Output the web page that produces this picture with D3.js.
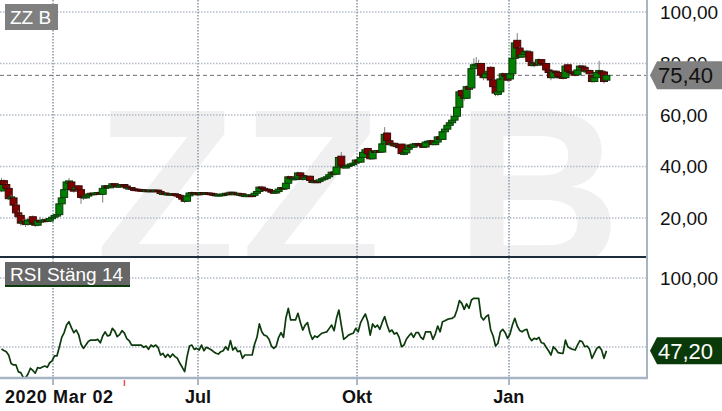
<!DOCTYPE html>
<html>
<head>
<meta charset="utf-8">
<script src="https://cdn.jsdelivr.net/npm/d3@7"></script>
<style>
  html, body { margin: 0; padding: 0; background: #fff; }
  svg { display: block; font-family: "Liberation Sans", Arial, sans-serif; }
</style>
</head>
<body>
<div id="chart"></div>
<script>
// ZZ B daily candles, 2020-03-02 .. 2021-03, one value per trading day
var opens = [30.5,34.5,33,31.5,27.5,27.8,25,22,21,18,
  18.7,17.5,19,20.5,18,17.2,19,18.5,18.7,19.3,
  18.8,19.8,20.3,21,21.3,25.5,28,31,33.5,34,
  31,31,32.5,31,28.5,27.8,28.5,29.3,29.6,29.5,
  29.7,29.9,29.2,31.5,32.5,31.8,32.3,33.3,32.8,32,
  32.6,33,32.4,31.6,31.8,31.3,31.2,31.1,31,30.9,
  30.6,30.8,30.4,30.8,30.6,30.8,30.3,29.5,29.7,29.1,
  29.5,29,29.4,29.1,28.8,28,27.3,26.5,28.6,29.7,
  29.9,29.5,29.6,29.4,29.9,29.4,29.7,29.6,29.4,29.2,
  28.9,29.1,29.2,29.3,29.6,29.3,30,29.4,29.6,29.3,
  29.4,28.6,28.9,28.9,28.9,28.8,29.6,30.3,32,31.5,
  31.2,31.1,30.6,30.2,30,30.3,31.2,31.8,31.4,33.5,
  36,35.3,35.4,35.5,37.5,36.5,35,35.8,36.2,34.6,
  33.8,34.3,34.2,34.8,35.3,35.6,36,36.8,37.8,37,
  39.8,44,40.3,39.5,40,40.6,41,41.3,42.5,41.7,
  43.5,45.5,47,45,43,46,45.5,46.2,45.6,48.8,
  53,50,48.5,49,48,48.3,48.7,45,45.3,46.7,
  48.3,47.5,48.7,48.9,48.7,48,47.6,49.5,49.8,50,
  48.5,49.5,51.5,50.5,53.5,54.5,56,57,58,59.5,
  63,69.5,67.5,66.5,71,70.5,78,79.5,79.7,80,
  75.5,74.5,76,78.5,73.6,71,68,69,74,76,
  75.5,74,76,82,89,86,82.5,83.5,84.5,84.5,
  80.5,79.2,80,79.5,81.5,80,80,77.5,76.5,74.5,
  77,76.5,75,74.8,74.5,79.5,77,76.5,76,75.6,
  77.5,79,78.5,77,77.3,75.5,73,74.5,76.5,77,
  76.7,73.5];

var closes = [34.5,33,31.5,27.5,28.2,25,22,20.5,18,18.7,
  17.5,19,19.5,18,17.2,19,18.5,19.2,19.3,18.8,
  19.8,20.3,21,21.3,25.5,27.8,31,34,34.4,31,
  30.5,32,31,28,27.8,28.5,29.3,29.6,29.5,29.7,
  29.9,29.2,31.5,32.5,31.8,32.3,33.3,32.8,32,32.6,
  33,32.4,31.6,31.8,31.3,31.2,31.1,31,30.9,30.6,
  30.8,30.4,30.8,30.6,30.8,30.3,29.5,29.7,29.1,29.5,
  29,29.4,29.1,28.8,28,27.3,26.5,28.6,29.7,29.9,
  29.5,29.6,29.4,29.9,29.4,29.7,29.6,29.4,29.2,28.9,
  29.1,29.2,29.3,29.6,29.3,30,29.4,29.6,29.3,29.4,
  28.6,28.9,28.9,28.9,28.8,29.6,30.3,32,31.5,31.2,
  31.1,30.6,30.2,30,30.3,31.2,31.8,31.4,33.5,36,
  35.3,35.4,35.5,37.5,36.5,35,35.8,36.2,34.6,33.8,
  34.3,34.2,34.8,35.3,35.6,36,36.8,37.8,37.1,39.8,
  43.5,40.3,39.5,40,40.6,41,41.3,42.5,41.7,43.5,
  45.5,46.5,45,43,46,45.5,46.2,45.6,48.8,52.5,
  50,48.5,49,48,48.3,47.3,45,45.3,46.7,48.3,
  47.5,48.7,48.9,48.7,48,47.6,49.5,49.8,50,48.5,
  49.5,51.5,50.5,53.5,54.5,56,57,58,59.5,63,
  69,67.5,66.5,71,70,78,79.5,79.7,80,75.5,
  74.5,76,77,73.6,71,68.5,69,74,76,75,
  73.5,76,82,88,86,82.5,83.5,84.5,84.8,80.8,
  79.2,80,79.5,81.5,80,79.5,77.5,76.5,74.5,77,
  76.5,75,74.8,74.7,79,77,76.5,76,75.6,77.5,
  79,78.8,77,77.3,76,73,74.5,76.5,77.3,76,
  73,75.4];

var highs = [35.5,35,33.5,31.8,29,28,25.5,23,21.5,19.5,
  19.8,19.5,20,21,18.5,19.5,20.5,19.8,19.8,19.6,
  20.2,20.8,21.5,22,25.8,28.5,31.5,34.6,35.5,34.3,
  31.5,32.5,32.8,31.2,28.8,29,29.6,30,29.9,30,
  30.3,30,31.8,32.8,32.7,32.6,33.5,33.5,33,32.8,
  33.2,33.1,32.5,32,31.9,31.5,31.4,31.3,31.2,31,
  31,30.9,31,30.9,31,30.9,30.4,29.9,29.8,29.7,
  29.6,29.6,29.5,29.2,28.9,28.1,27.5,29,30,30.3,
  30,29.9,29.8,30.1,30,29.9,29.9,29.7,29.5,29.3,
  29.3,29.4,29.5,29.8,29.7,30.2,30.1,29.8,29.7,29.6,
  29.5,29.1,29.1,29.2,29,29.8,30.5,32.4,32.5,31.7,
  31.4,31.2,30.7,30.3,30.5,31.4,32,32,33.8,36.5,
  36.2,35.8,36,38,37.7,36.6,36,36.5,36.3,34.8,
  34.5,34.5,35,35.5,35.8,36.3,37,38.2,38,40.2,
  44,45.6,40.5,40.3,40.9,41.3,41.6,42.8,42.7,43.8,
  46,47,47.3,45.2,46.3,46.4,46.5,46.4,49,55.3,
  53.3,50.2,49.3,49.2,48.6,48.7,48.8,45.6,47,48.6,
  48.5,49,49.2,49.3,48.8,48.2,49.8,50.1,50.4,50.1,
  49.8,51.8,51.7,53.9,54.8,56.4,57.4,58.4,59.9,63.5,
  69.5,70,68,71.5,72,78.8,82,82.5,81.5,80.3,
  76,76.5,77.8,79,74,71.3,69.5,74.5,76.5,76.3,
  75.8,76.5,82.5,88.5,91.8,86.5,84,85,85.3,84.8,
  80.8,80.5,80.6,82,81.7,80.3,80.2,77.8,76.8,77.5,
  77.3,76.8,75.3,75.2,79.5,80,77.3,76.8,76.3,78,
  79.5,79.3,78.8,77.8,77.5,75.8,74.8,77,81,77.3,
  77,75.8];

var lows = [30,32.5,30.5,27,26.5,24,21.5,19.5,17,17.2,
  16.5,17,18,17.5,16.5,16.8,18,18.2,18.5,18.3,
  18.5,19.5,20,20.6,21,25,27.5,30.5,33,30.5,
  29.8,30.5,30.5,25.5,27,27.5,28.2,29,29.1,29.2,
  29.4,28.9,26,31.2,31.5,31.6,32.1,32.5,31.8,31.8,
  32.4,32.2,31.4,31.4,31.1,31,30.9,30.8,30.7,30.3,
  30.5,30.2,30.3,30.4,30.5,30.1,29.2,29.3,28.9,29,
  28.8,28.9,28.9,28.5,27.7,27,25.8,26.3,28.4,29.5,
  29.3,29.3,29.2,29.3,29.2,29.3,29.4,29.2,29,28.7,
  28.8,29,29,29.2,29.1,29.2,29.2,29.3,29.1,29.1,
  28.3,28.4,28.7,28.6,28.6,28.7,29.4,30.1,31.2,31,
  30.9,30.4,30,29.8,29.9,30.2,31,31.2,31.3,33.3,
  35,35,35.1,35.3,36.2,34.5,34.8,35.5,34.3,33.5,
  33.6,34,34,34.6,35.1,35.4,35.8,36.6,36.8,36.7,
  39.5,40,39.2,39.3,39.8,40.4,40.8,41.1,41,41.5,
  43.2,45.2,44.5,42.6,42.8,45,45.2,45.3,45.4,48.5,
  49.6,48.2,48.2,47.8,47.8,47,44.5,44.3,45,46.5,
  47.2,47.3,48.4,48.4,47.7,47.3,47.4,49.2,49.5,48.2,
  48.3,49.3,50.2,50.3,53.2,54.3,55.7,56.8,57.7,59.3,
  62.8,67,65.5,66.2,69.5,70.2,77.5,79,79.2,74.8,
  73.5,74,75.5,73,70.5,67.3,67.3,68.8,73.5,74.5,
  73,73.8,75.8,81.5,85.5,82,82.2,83.2,84,80.3,
  78.8,78.5,79,79.2,79.5,79,77,76,73.5,74.2,
  76,74.5,74.2,73.8,74.2,76.5,76,75.5,75,75.3,
  77.2,78.3,76.5,76.7,75.5,72.5,72.6,74.2,76.2,75.5,
  72.2,73.3];

// RSI (close, 14)
var rsi = [48.6,47.5,46.6,44,38,37,37,32,31.4,28,
  27.5,30.4,34.6,33,31,35,34.6,35.5,36.2,35.3,
  38.6,40,43.5,43.5,50,57,60.5,66,68.3,64,
  60.4,62.3,59,52,49,51.4,54,55,55,55,
  55.5,53,58,61,58,58.6,63.5,61.5,57.5,59,
  61.8,60,56,54.5,51.4,51.4,51.4,51.4,51.4,49.8,
  50.7,48.3,51.4,50.2,51.4,49.5,44.2,45.4,42.5,44.7,
  42.5,44.9,43,41.8,38.2,35.3,32.1,43,50.7,51.4,
  48.3,49,47.8,51.4,47.3,49.8,49,48,46.6,45.5,
  44.9,46.6,47.3,50.2,47.8,54.6,47.8,49.8,46.6,47.3,
  41.8,44.2,44.2,44.2,44.2,52,57,66.7,61,58.6,
  58,55.6,50.7,49,50.7,57,60.4,57,70.8,78,
  69.6,69.6,69.6,74.4,68,62.3,65.9,67.6,60,55.6,
  58,57,58.6,60,60.5,61,63.5,65.9,61.8,70.8,
  76.8,65.9,55.6,57,58.6,59.4,60,63.5,61,67.6,
  71,73.9,68.3,58.6,66.7,64.3,65.9,62.8,68,72,
  65.9,61,62.3,59.4,60.4,57,50.2,51.4,55.6,58,
  60,57,60.4,60.4,57,55.6,61,61,61,55.6,
  59.4,65.2,61,68.3,69,70,70.5,70.8,72,76.8,
  83.6,81.6,77.3,81.2,78,84.1,85.3,85.3,85.3,72,
  69.6,72,73.2,62.3,58,50.7,52.7,61,62.8,60.4,
  56.3,59.4,65.9,70.8,65.2,62,61,62.3,62.8,57,
  54.6,56.3,55.6,57,53.1,52.7,49.8,47.3,44.2,50.2,
  48.3,45.9,45.6,45.4,55,50.2,49,48.4,47.8,51.4,
  54.6,53.8,50.2,50.7,48.3,41.8,45.4,49,50.2,47.8,
  41.8,47.2];

// first trading day of each quarter (day index) and its label
var quarterIdx = [22, 82, 148, 211];
var quarterLabels = ["", "Jul", "Okt", "Jan"];
var startLabel = "2020 Mar 02";
var markerIdx = [51];

var priceTicks = [20, 40, 60, 80, 100];
var rsiTicks = [50, 100];
var lastPrice = 75.40;
var lastRsi = 47.20;

var width = 722, height = 411;
var plotRight = 647, panelSplit = 257, axisY = 378;
var font = '"Liberation Sans", Arial, sans-serif';

var svg = d3.select('#chart').append('svg')
    .attr('width', width)
    .attr('height', height);

var x = d3.scaleLinear().domain([0, 251]).range([1.5, 606.4]);
var y = d3.scaleLinear().domain([20, 100]).range([218, 12]);
var yR = d3.scaleLinear().domain([50, 100]).range([347, 278]);

var sv = d3.formatLocale({decimal: ',', thousands: ' ', grouping: [3], currency: ['', ' kr']});
var fmt = sv.format('.2f');

var defs = svg.append('defs');
defs.append('clipPath').attr('id', 'clipTop')
  .append('rect').attr('x', 0).attr('y', 0).attr('width', plotRight).attr('height', panelSplit);
defs.append('clipPath').attr('id', 'clipRsi')
  .append('rect').attr('x', 0).attr('y', panelSplit).attr('width', plotRight).attr('height', axisY - panelSplit);

// watermark
svg.append('text')
    .attr('clip-path', 'url(#clipTop)')
    .attr('x', 95).attr('y', 270)
    .attr('font-family', font).attr('font-weight', 'bold')
    .attr('font-size', 230)
    .attr('letter-spacing', 5)
    .attr('fill', '#f0f0f0')
    .text('ZZ B');

// horizontal grid
svg.append('g').selectAll('line').data(priceTicks).enter().append('line')
    .attr('x1', 0).attr('x2', plotRight)
    .attr('y1', function(d) { return y(d); }).attr('y2', function(d) { return y(d); })
    .attr('stroke', '#b3bcc6').attr('stroke-width', 1.5).attr('stroke-dasharray', '1.5,1.5');
svg.append('g').selectAll('line').data(rsiTicks).enter().append('line')
    .attr('x1', 0).attr('x2', plotRight)
    .attr('y1', function(d) { return yR(d); }).attr('y2', function(d) { return yR(d); })
    .attr('stroke', '#b3bcc6').attr('stroke-width', 1.5).attr('stroke-dasharray', '1.5,1.5');

// vertical grid at quarter starts
var vg = svg.append('g');
vg.selectAll('line.g').data(quarterIdx).enter().append('line')
    .attr('class', 'g')
    .attr('x1', function(d) { return Math.round(x(d - 0.5)); })
    .attr('x2', function(d) { return Math.round(x(d - 0.5)); })
    .attr('y1', 0).attr('y2', axisY)
    .attr('stroke', '#8797a8').attr('stroke-width', 1.5).attr('stroke-dasharray', '1.5,1.5');
vg.selectAll('line.t').data(quarterIdx).enter().append('line')
    .attr('class', 't')
    .attr('x1', function(d) { return Math.round(x(d - 0.5)); })
    .attr('x2', function(d) { return Math.round(x(d - 0.5)); })
    .attr('y1', axisY).attr('y2', axisY + 7)
    .attr('stroke', '#8fa0b2').attr('stroke-width', 1.5);

// last price line
svg.append('line')
    .attr('x1', 0).attr('x2', plotRight)
    .attr('y1', y(lastPrice)).attr('y2', y(lastPrice))
    .attr('stroke', '#6e6e6e').attr('stroke-width', 1).attr('stroke-dasharray', '4,3');

// candles
var candles = svg.append('g').attr('clip-path', 'url(#clipTop)')
  .selectAll('g').data(d3.range(opens.length)).enter().append('g');
candles.append('line')
    .attr('x1', function(i) { return x(i); }).attr('x2', function(i) { return x(i); })
    .attr('y1', function(i) { return y(highs[i]); }).attr('y2', function(i) { return y(lows[i]); })
    .attr('stroke', '#7d7d7d').attr('stroke-width', 1);
candles.append('rect')
    .attr('x', function(i) { return x(i) - 3.5; })
    .attr('width', 7)
    .attr('y', function(i) { return y(Math.max(opens[i], closes[i])); })
    .attr('height', function(i) { return Math.max(1.5, Math.abs(y(opens[i]) - y(closes[i]))); })
    .attr('fill', function(i) { return closes[i] >= opens[i] ? '#008000' : '#800000'; })
    .attr('stroke', function(i) { return closes[i] >= opens[i] ? '#0b3d0b' : '#3d0a0a'; })
    .attr('stroke-width', 1);

// RSI line
svg.append('path')
    .datum(rsi)
    .attr('clip-path', 'url(#clipRsi)')
    .attr('d', d3.line().x(function(d, i) { return x(i); }).y(function(d) { return yR(d); }))
    .attr('fill', 'none')
    .attr('stroke', '#0d3a0d').attr('stroke-width', 1.7).attr('stroke-linejoin', 'round');

// frame
svg.append('line').attr('x1', 0).attr('x2', plotRight).attr('y1', panelSplit).attr('y2', panelSplit)
    .attr('stroke', '#1d2d3c').attr('stroke-width', 2);
svg.append('line').attr('x1', plotRight).attr('x2', plotRight).attr('y1', 0).attr('y2', axisY + 1)
    .attr('stroke', '#a6b4c3').attr('stroke-width', 2);
svg.append('line').attr('x1', 0).attr('x2', plotRight + 1).attr('y1', axisY).attr('y2', axisY)
    .attr('stroke', '#a6b4c3').attr('stroke-width', 2.5);

// event marker
svg.selectAll('line.mk').data(markerIdx).enter().append('line')
    .attr('class', 'mk')
    .attr('x1', function(d) { return x(d); }).attr('x2', function(d) { return x(d); })
    .attr('y1', axisY + 2).attr('y2', axisY + 8)
    .attr('stroke', '#f05050').attr('stroke-width', 1.5);

// panel titles
svg.append('rect').attr('x', 5).attr('y', 4).attr('width', 53).attr('height', 26).attr('fill', '#808080');
svg.append('text').attr('x', 10).attr('y', 24)
    .attr('font-family', font).attr('font-size', 19).attr('fill', '#fff').text('ZZ B');
svg.append('rect').attr('x', 5).attr('y', 262).attr('width', 125).attr('height', 23).attr('fill', '#666666');
svg.append('rect').attr('x', 5).attr('y', 285).attr('width', 125).attr('height', 2).attr('fill', '#0d3a0d');
svg.append('text').attr('x', 10).attr('y', 281)
    .attr('font-family', font).attr('font-size', 19).attr('fill', '#fff').text('RSI Stäng 14');

// right axes
var axPrice = svg.append('g').attr('transform', 'translate(660,0)')
    .call(d3.axisRight(y).tickValues(priceTicks).tickFormat(fmt).tickSize(0).tickPadding(0));
var axRsi = svg.append('g').attr('transform', 'translate(660,0)')
    .call(d3.axisRight(yR).tickValues([100]).tickFormat(fmt).tickSize(0).tickPadding(0));
[axPrice, axRsi].forEach(function(ax) {
  ax.select('.domain').remove();
  ax.selectAll('text').attr('font-family', font).attr('font-size', 19).attr('fill', '#111');
});

// last value tags
function tag(yy, h, fill, txtColor, label) {
  var pts = [[650, yy], [657, yy - h / 2], [722, yy - h / 2], [722, yy + h / 2], [657, yy + h / 2]];
  svg.append('polygon').attr('points', pts.map(function(p) { return p.join(','); }).join(' '))
      .attr('fill', fill);
  svg.append('text').attr('x', 658).attr('y', yy + 8)
      .attr('font-family', font).attr('font-size', 22).attr('fill', txtColor).text(label);
}
tag(y(lastPrice), 28, '#808080', '#111', fmt(lastPrice));
tag(yR(lastRsi), 27, '#0a3a0a', '#fff', fmt(lastRsi));

// bottom axis labels
svg.append('text').attr('x', 5).attr('y', 403)
    .attr('font-family', font).attr('font-weight', 'bold').attr('font-size', 18)
    .attr('letter-spacing', 0.6).attr('fill', '#111')
    .text(startLabel);
svg.selectAll('text.q').data(quarterIdx.filter(function(d, i) { return quarterLabels[i]; })).enter()
  .append('text').attr('class', 'q')
    .attr('x', function(d) { return x(d - 0.5); }).attr('y', 403)
    .attr('text-anchor', 'middle')
    .attr('font-family', font).attr('font-weight', 'bold').attr('font-size', 18).attr('fill', '#111')
    .text(function(d) { return quarterLabels[quarterIdx.indexOf(d)]; });
</script>
</body>
</html>
